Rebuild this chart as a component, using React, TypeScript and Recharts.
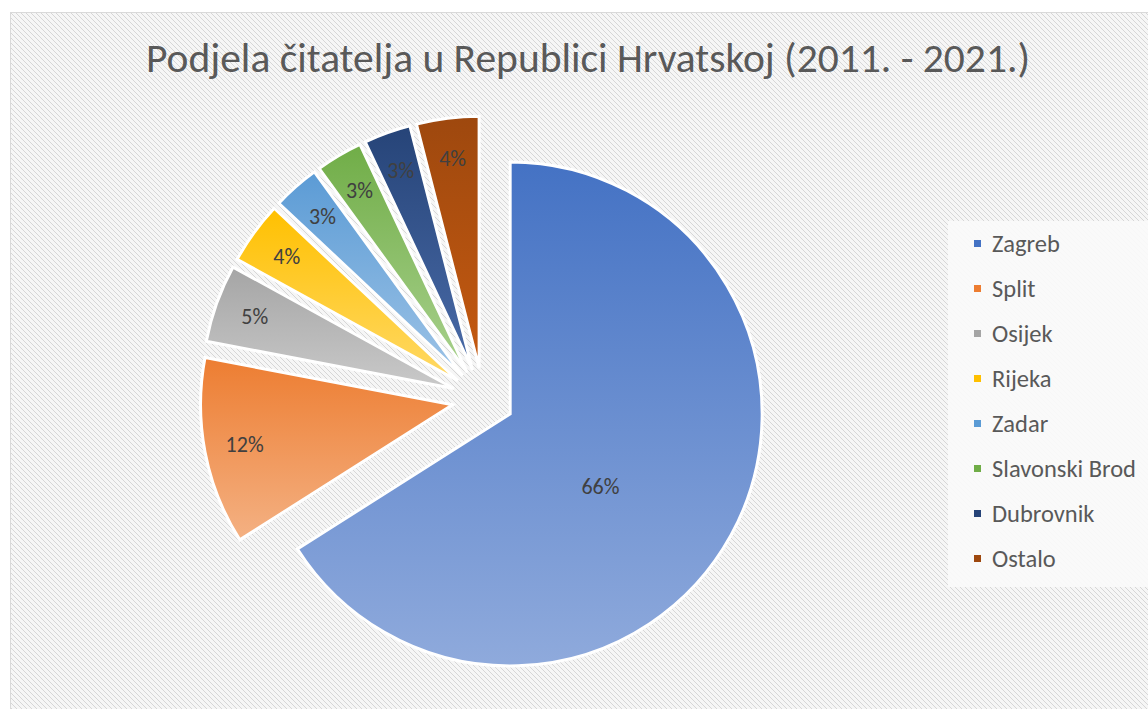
import { PieChart, Pie, Cell, Legend } from 'recharts'

const CITIES = ['Zagreb', 'Split', 'Osijek', 'Rijeka', 'Zadar', 'Slavonski Brod', 'Dubrovnik', 'Ostalo']
const SHARES = [66, 12, 5, 4, 3, 3, 3, 4]
const TITLE = 'Podjela čitatelja u Republici Hrvatskoj (2011. - 2021.)'

const COLORS = ['#4472C4', '#ED7D31', '#A5A5A5', '#FFC000', '#5B9BD5', '#70AD47', '#264478', '#9E480E']
const LIGHT = ['#8FAADC', '#F4B183', '#C9C9C9', '#FFD966', '#9DC3E6', '#A9D18E', '#4A6BA8', '#C55A11']

const data = CITIES.map((name, i) => ({ name, value: SHARES[i] }))

const W = 1148
const H = 709
const CX = 483
const CY = 399
const R = 252
const EXPLODE = 31
const FONT = 'Calibri, Carlito, "Open Sans", Lato, sans-serif'

const HATCH =
  "url(\"data:image/svg+xml;utf8,<svg xmlns='http://www.w3.org/2000/svg' width='5' height='5'><rect width='5' height='5' fill='%23f6f6f6'/><path d='M-1,-1 L6,6 M-1,4 L1,6 M4,-1 L6,1' stroke='%23d6d6d6' stroke-width='1'/></svg>\")"

const total = SHARES.reduce((a, b) => a + b, 0)

// mid angle of slice i in recharts degrees (ccw from 3 o'clock)
function midAngle(i: number) {
  const before = SHARES.slice(0, i).reduce((a, b) => a + b, 0)
  const frac = (before + SHARES[i] / 2) / total
  return 90 - frac * 360
}

const RAD = Math.PI / 180

function makeLabel(i: number) {
  return (props: any) => {
    if (props.index !== i) return null
    const { cx, cy, midAngle: ma, outerRadius, percent } = props
    const big = percent > 0.5
    const k = big ? 0.46 : 0.84
    const a = big ? ma - 10 : ma
    const x = cx + outerRadius * k * Math.cos(-a * RAD)
    const y = cy + outerRadius * k * Math.sin(-a * RAD)
    return (
      <text x={x} y={y} textAnchor="middle" dominantBaseline="central" fill="#404040" fontSize={22} fontFamily={FONT}>
        {Math.round(percent * 100)}%
      </text>
    )
  }
}

function LegendList() {
  return (
    <ul style={{ listStyle: 'none', margin: 0, padding: '0 0 6px 26px', background: 'rgba(250,250,250,0.92)' }}>
      {CITIES.map((c, i) => (
        <li key={c} style={{ height: 45, display: 'flex', alignItems: 'center', fontFamily: FONT, fontSize: 24.5, color: '#595959' }}>
          <span style={{ width: 7, height: 7, background: COLORS[i], marginRight: 11, display: 'inline-block' }} />
          {c}
        </li>
      ))}
    </ul>
  )
}

export default function App() {
  return (
    <div style={{ position: 'absolute', left: 0, top: 0, width: W, height: H, background: '#fff', overflow: 'hidden' }}>
      <div
        style={{
          position: 'absolute',
          left: 10,
          top: 12,
          width: W,
          height: H,
          border: '1px solid #d9d9d9',
          backgroundImage: HATCH,
        }}
      />
      <div style={{ position: 'absolute', left: 0, top: 0 }}>
        <PieChart width={W} height={H} margin={{ top: 0, right: 0, bottom: 0, left: 0 }}>
          <defs>
            {COLORS.map((c, i) => (
              <linearGradient key={c} id={`grad${i}`} x1="0" y1="0" x2="0" y2="1">
                <stop offset="0%" stopColor={c} />
                <stop offset="100%" stopColor={LIGHT[i]} />
              </linearGradient>
            ))}
          </defs>
          <text x={588} y={72} textAnchor="middle" fill="#595959" fontSize={41.5} fontFamily={FONT}>
            {TITLE}
          </text>
          {CITIES.map((_, i) => {
            const a = midAngle(i) * RAD
            return (
              <Pie
                key={i}
                data={data}
                dataKey="value"
                nameKey="name"
                cx={CX + EXPLODE * Math.cos(a)}
                cy={CY - EXPLODE * Math.sin(a)}
                outerRadius={R}
                startAngle={90}
                endAngle={-270}
                legendType="none"
                labelLine={false}
                label={makeLabel(i)}
                isAnimationActive={false}
              >
                {data.map((d, j) => (
                  <Cell
                    key={d.name}
                    fill={j === i ? `url(#grad${j})` : 'none'}
                    stroke={j === i ? '#ffffff' : 'none'}
                    strokeWidth={3}
                  />
                ))}
              </Pie>
            )
          })}
          <Legend
            layout="vertical"
            align="right"
            verticalAlign="top"
            content={() => <LegendList />}
            wrapperStyle={{ left: 948, top: 221, width: 200, right: 'auto' }}
          />
        </PieChart>
      </div>
    </div>
  )
}
